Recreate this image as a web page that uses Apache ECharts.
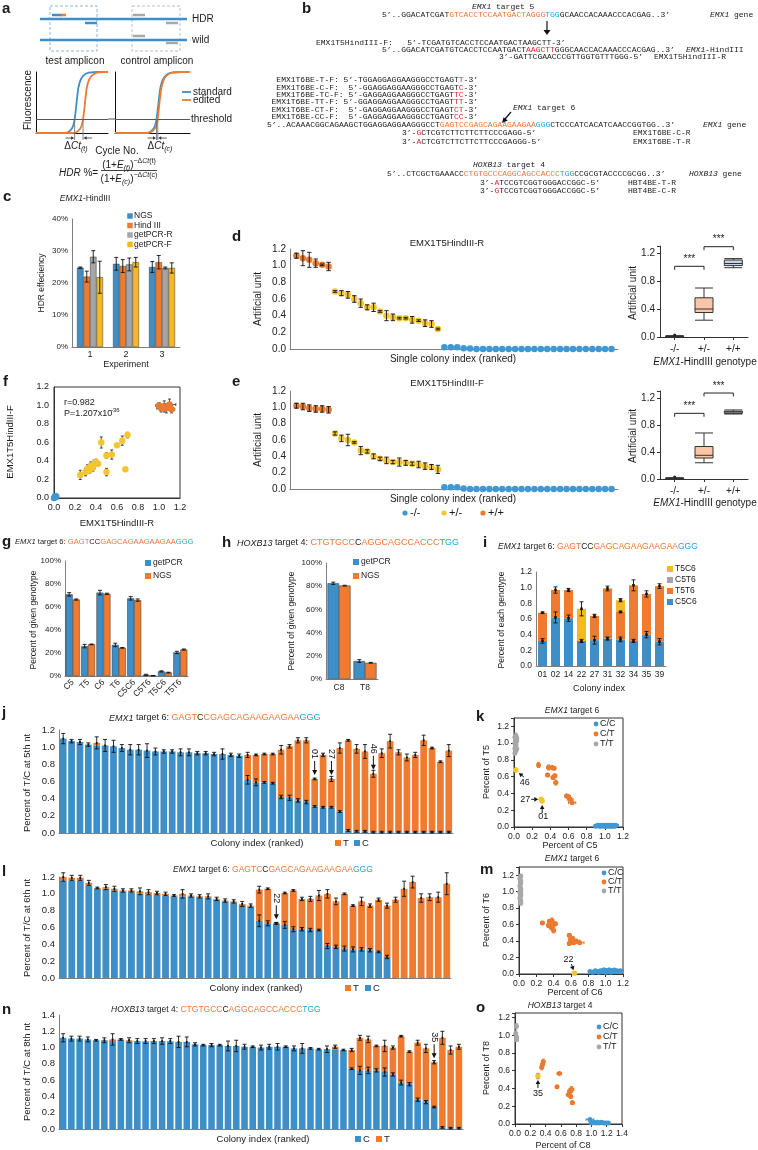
<!DOCTYPE html>
<html><head><meta charset="utf-8"><title>chart</title>
<script src="https://cdn.jsdelivr.net/npm/echarts@6/dist/echarts.min.js"></script>
<style>html,body{margin:0;padding:0;background:#fff;}#c{width:758px;height:1150px;}</style>
</head><body><div id="c"></div>
<script>
// ================= DATA =================
// a: schematic qPCR curves [cycle, fluorescence]
const aTestStd=[[0,0],[12,0],[14,0.03],[15.5,0.12],[16.5,0.35],[17.2,0.6],[18,0.8],[19.5,0.93],[22,0.99],[26,1],[30,1]];
const aTestEdit=[[0,0],[15.5,0],[17.5,0.03],[19,0.12],[20,0.35],[20.7,0.6],[21.5,0.8],[23,0.93],[25.5,0.99],[28,1],[30,1]];
const aCtrlStd=[[0,0],[12.5,0],[14.5,0.03],[16,0.12],[17,0.35],[17.7,0.6],[18.5,0.8],[20,0.93],[22.5,0.99],[26,1],[30,1]];
const aCtrlEdit=[[0,0],[13,0],[15,0.03],[16.5,0.12],[17.4,0.35],[18.1,0.6],[18.9,0.8],[20.4,0.93],[23,0.99],[26.5,1],[30,1]];
const aThreshold=0.23;
const aCtTest=[16.1,19.6], aCtCtrl=[16.6,17.1];
// c
const cCats=['1','2','3'];
const cNGS=[24.8,26.0,25.0], cNGSErr=[0.2,2.0,1.7];
const cHind=[22.0,25.3,26.5], cHindErr=[1.7,2.0,2.1];
const cPCRR=[28.2,25.8,24.7], cPCRRErr=[1.9,2.0,0.3];
const cPCRF=[21.8,26.5,24.7], cPCRFErr=[5.0,1.5,1.6];
// d (EMX1T5HindIII-R), ranked colonies
const dHom=[1.12,1.09,1.07,1.03,1.01,0.99], dHomErr=[0.03,0.09,0.09,0.05,0.01,0.05];
const dHet=[0.69,0.67,0.65,0.60,0.55,0.50,0.50,0.45,0.40,0.38,0.37,0.37,0.35,0.34,0.31,0.30,0.24];
const dHetErr=[0.01,0.03,0.04,0.04,0.05,0.03,0.05,0.01,0.06,0.04,0.01,0.01,0.04,0.01,0.04,0.04,0.01];
const dWt=[0.02,0.02,0.02,0.01,0.005,0,0,0,0,0,0,0,0,0,0,0,0,0,0,0,0,0,0,0,0,0,0];
const boxCats=['-/-','+/-','+/+'];
const dBox=[[0,0,0.005,0.01,0.02],[0.24,0.35,0.40,0.56,0.70],[0.99,1.02,1.05,1.10,1.12]];
// e (EMX1T5HindIII-F)
const eHom=[1.02,1.01,0.99,0.98,0.98,0.97], eHomErr=[0.03,0.04,0.04,0.04,0.04,0.04];
const eHet=[0.68,0.62,0.60,0.57,0.47,0.46,0.40,0.37,0.35,0.33,0.33,0.32,0.31,0.30,0.28,0.27,0.24];
const eHetErr=[0.02,0.04,0.07,0.01,0.05,0.02,0.03,0.02,0.04,0.02,0.05,0.03,0.02,0.04,0.04,0.03,0.05];
const eWt=[0.02,0.02,0.02,0.005,0,0,0,0,0,0,0,0,0,0,0,0,0,0,0,0,0,0,0,0,0,0,0];
const eBox=[[0,0,0.005,0.01,0.02],[0.24,0.31,0.35,0.48,0.68],[0.96,0.97,0.99,1.00,1.02]];
// f  [R, F, errR, errF]
const fHom=[[1.00,1.00,0.03,0.03],[1.02,0.97,0.04,0.04],[1.05,0.99,0.03,0.06],[1.07,0.97,0.04,0.05],[1.10,1.01,0.06,0.06],[1.12,0.96,0.03,0.04]];
const fHet=[[0.25,0.25,0,0.05],[0.30,0.28,0,0.04],[0.32,0.32,0,0.04],[0.34,0.30,0,0.03],[0.35,0.35,0,0.04],[0.37,0.33,0,0.04],[0.38,0.36,0,0.05],[0.40,0.39,0,0.03],[0.42,0.37,0,0.02],[0.45,0.60,0,0.06],[0.50,0.46,0,0.03],[0.50,0.28,0,0.04],[0.55,0.47,0,0.05],[0.60,0.57,0,0.01],[0.65,0.62,0,0.05],[0.68,0.31,0,0.01],[0.70,0.68,0,0.03]];
const fWt=[[0.00,0.00,0,0],[0.01,0.01,0,0],[0.02,0.02,0,0],[0.01,0.02,0,0],[0.02,0.01,0,0]];
// g
const gCats=['C5','T5','C6','T6','C5C6','C5T6','T5C6','T5T6'];
const gPCR=[71,26,72.5,27,67.5,1,4,20.5], gPCRErr=[1.5,1.5,2,1.5,1.5,0.5,0.5,1];
const gNGS=[66.5,27.5,71.5,24.5,66,0.3,3,23], gNGSErr=[0.5,0.3,0.5,0.3,1,0.1,0.3,0.5];
// h
const hCats=['C8','T8'];
const hPCR=[82.5,15.5], hPCRErr=[1,1.2], hNGS=[80.5,14], hNGSErr=[0.3,0.3];
// i
const iCats=['01','02','14','22','27','31','32','34','35','39'];
const iC5C6=[0.32,0.62,0.61,0.32,0.33,0.35,0.34,0.32,0.40,0.31], iC5C6Err=[0.03,0.07,0.04,0.02,0.05,0.02,0.03,0.02,0.04,0.04];
const iT5T6=[0.36,0.35,0.36,0,0.31,0.64,0.35,0.71,0.52,0.71], iT5T6Err=[0.01,0.04,0.02,0,0.02,0.03,0.01,0.07,0.04,0.03];
const iC5T6=[0,0,0,0,0,0,0,0,0,0];
const iT5C6=[0,0,0,0.41,0,0,0.15,0,0,0], iT5C6Err=[0,0,0,0.09,0,0,0.02,0,0,0];
// j (T/C at 5th nt), ranked
const jTotal=[1.10,1.07,1.06,1.03,1.05,1.02,1.01,0.99,0.97,0.97,0.96,0.95,0.95,0.95,0.94,0.94,0.93,0.93,0.92,0.92,0.91,0.90,0.91,0.91,0.92,0.92,0.97,1.01,1.08,1.08,0.63,0.91,0.63,0.99,1.08,0.98,0.95,0.69,0.93,1.07,0.94,0.88,0.91,1.08,0.99,0.83,0.96];
const jC=[1.10,1.07,1.06,1.03,1.02,1.02,1.01,0.99,0.97,0.97,0.96,0.95,0.95,0.95,0.94,0.94,0.93,0.93,0.92,0.92,0.91,0.90,0.62,0.59,0.59,0.58,0.42,0.41,0.38,0.36,0.31,0.30,0.30,0.25,0.03,0.02,0.02,0.01,0.01,0.01,0.01,0.01,0.01,0.01,0.01,0.01,0.01];
const jErrT=[0.06,0.02,0.03,0.02,0.07,0.07,0.07,0.04,0.06,0.06,0.08,0.04,0.02,0.02,0.04,0.04,0.02,0.02,0.02,0.06,0.02,0.02,0.03,0.01,0.01,0.01,0.05,0.02,0.03,0.03,0.01,0.02,0.03,0.06,0.01,0.05,0.08,0.04,0.05,0.08,0.03,0.04,0.03,0.06,0.01,0.01,0.07];
const jErrC=[0,0,0,0,0,0,0,0,0,0,0,0,0,0,0,0,0,0,0,0,0,0,0.05,0.04,0.01,0.01,0.02,0.03,0.02,0.02,0.01,0.01,0.01,0.01,0.01,0.01,0.01,0.01,0.01,0.01,0.01,0.01,0.01,0.01,0.01,0.01,0.01];
const jMarks=[[30,'01'],[32,'27'],[37,'46']];
// k
const kCC=[[0.90,0.01,0.02,0.01],[0.92,0.02,0.03,0.01],[0.94,0.01,0.02,0.01],[0.95,0.02,0.03,0.01],[0.96,0.01,0.02,0.01],[0.98,0.02,0.03,0.01],[0.99,0.01,0.02,0.01],[1.00,0.02,0.03,0.01],[1.01,0.01,0.02,0.01],[1.02,0.02,0.03,0.01],[1.03,0.01,0.02,0.01],[1.04,0.02,0.03,0.01],[1.05,0.01,0.02,0.01],[1.06,0.02,0.03,0.01],[1.07,0.01,0.02,0.01],[1.08,0.02,0.03,0.01],[1.09,0.01,0.02,0.01],[1.10,0.02,0.03,0.01],[1.11,0.01,0.02,0.01],[1.12,0.02,0.03,0.01]];
const kCT=[[0.27,0.74,0.01,0.03],[0.37,0.62,0.02,0.02],[0.38,0.71,0.02,0.03],[0.42,0.71,0.02,0.02],[0.44,0.70,0.02,0.02],[0.45,0.61,0.02,0.02],[0.46,0.53,0.02,0.03],[0.43,0.59,0.02,0.02],[0.58,0.37,0.02,0.02],[0.60,0.36,0.02,0.02],[0.62,0.33,0.03,0.02],[0.64,0.29,0.04,0.02]];
const kTT=[[0.02,1.09,0.01,0.03],[0.01,1.07,0.01,0.02],[0.02,1.05,0.01,0.03],[0.03,1.03,0.01,0.02],[0.01,1.00,0.01,0.02],[0.02,0.98,0.01,0.03],[0.02,0.96,0.01,0.02],[0.01,0.94,0.01,0.02],[0.03,0.93,0.01,0.02],[0.02,0.91,0.01,0.02],[0.01,0.88,0.01,0.02],[0.02,0.99,0.01,0.02],[0.03,1.06,0.01,0.02]];
const kSpecial=[[0.02,0.68,0,0.02],[0.30,0.33,0.01,0.02],[0.31,0.31,0.01,0.02]];
const kSpecialLabels=['46','27','01'];
// l (T/C at 6th nt), ranked
const lTotal=[1.20,1.19,1.19,1.13,1.07,1.08,1.06,1.04,1.04,1.03,1.02,1.01,1.00,0.98,1.00,0.98,0.97,0.97,0.94,0.92,0.91,0.88,0.86,1.05,1.06,0.65,1.01,1.04,0.94,0.94,0.98,1.00,0.91,1.00,0.86,0.91,0.86,0.93,0.86,0.93,1.06,1.14,0.95,0.96,0.96,1.12];
const lC=[1.16,1.16,1.16,1.10,1.06,1.06,1.04,1.03,1.02,1.00,0.99,0.99,0.98,0.97,0.97,0.97,0.96,0.95,0.93,0.91,0.90,0.87,0.85,0.68,0.65,0.65,0.63,0.58,0.58,0.57,0.57,0.38,0.37,0.35,0.34,0.34,0.33,0.31,0.25,0.01,0.01,0.01,0.01,0.01,0.01,0.01];
const lErrT=[0.05,0.03,0.03,0.03,0.01,0.03,0.03,0.02,0.02,0.04,0.03,0.02,0.02,0.01,0.05,0.02,0.02,0.03,0.02,0.02,0.02,0.03,0.02,0.04,0.01,0.01,0.01,0.01,0.02,0.03,0.06,0.05,0.04,0.01,0.01,0.05,0.02,0.02,0.03,0.03,0.09,0.07,0.05,0.04,0.06,0.13];
const lErrC=[0,0,0,0,0,0,0,0,0,0,0,0,0,0,0,0,0,0,0,0,0,0,0,0.07,0.03,0.01,0.04,0.03,0.02,0.02,0.01,0.03,0.02,0.03,0.03,0.02,0.02,0.01,0.02,0,0,0,0,0,0,0];
const lMarks=[[25,'22']];
// m
const mCC=[[0.82,0.03,0.02,0.01],[0.85,0.02,0.03,0.01],[0.88,0.04,0.02,0.01],[0.90,0.03,0.03,0.02],[0.92,0.02,0.02,0.01],[0.94,0.04,0.03,0.01],[0.96,0.03,0.02,0.01],[0.98,0.05,0.03,0.02],[1.00,0.02,0.02,0.01],[1.01,0.04,0.03,0.01],[1.03,0.03,0.02,0.01],[1.04,0.05,0.03,0.02],[1.06,0.02,0.02,0.01],[1.07,0.04,0.03,0.01],[1.09,0.03,0.02,0.01],[1.10,0.05,0.03,0.01],[1.12,0.03,0.02,0.01],[1.13,0.04,0.03,0.01],[1.15,0.03,0.02,0.01],[1.17,0.04,0.03,0.01]];
const mCT=[[0.27,0.62,0.02,0.02],[0.35,0.64,0.02,0.02],[0.38,0.65,0.02,0.03],[0.40,0.60,0.03,0.03],[0.37,0.57,0.02,0.03],[0.40,0.53,0.02,0.03],[0.42,0.61,0.02,0.02],[0.34,0.59,0.02,0.02],[0.58,0.47,0.02,0.02],[0.60,0.42,0.03,0.02],[0.63,0.38,0.03,0.02],[0.66,0.40,0.04,0.02],[0.58,0.37,0.02,0.02],[0.62,0.43,0.02,0.02],[0.70,0.38,0.05,0.02]];
const mTT=[[0.02,1.19,0.01,0.02],[0.01,1.16,0.01,0.02],[0.02,1.13,0.01,0.02],[0.02,1.10,0.01,0.02],[0.01,1.07,0.01,0.02],[0.02,1.04,0.01,0.02],[0.02,1.01,0.01,0.02],[0.01,0.99,0.01,0.02],[0.02,0.97,0.01,0.02],[0.02,0.95,0.01,0.02],[0.01,0.92,0.01,0.02],[0.02,0.89,0.01,0.02],[0.02,0.86,0.01,0.02]];
const mSpecial=[[0.64,0.01,0.01,0.01]];
const mSpecialLabels=['22'];
// n (T/C at 8th nt), ranked
const nTotal=[1.12,1.11,1.11,1.10,1.09,1.09,1.10,1.10,1.09,1.08,1.08,1.08,1.08,1.08,1.07,1.07,1.04,1.03,1.03,1.03,1.02,1.02,1.01,1.01,1.00,1.01,1.01,1.01,0.99,0.99,0.99,0.98,0.98,1.01,0.97,0.97,1.12,1.10,1.02,1.02,1.00,1.14,0.95,1.06,0.99,0.82,1.12,0.97,1.01];
const nC=[1.12,1.11,1.11,1.10,1.09,1.09,1.08,1.10,1.08,1.08,1.07,1.08,1.08,1.07,1.07,1.07,1.04,1.03,1.03,1.03,1.02,1.02,1.01,1.01,1.00,1.01,1.01,1.01,0.99,0.99,0.99,0.98,0.98,0.97,0.97,0.74,0.72,0.72,0.72,0.70,0.67,0.57,0.55,0.36,0.33,0.27,0.02,0.01,0.01];
const nErrT=[0.05,0.03,0.03,0.03,0.01,0.03,0.07,0.01,0.03,0.03,0.03,0.03,0.04,0.03,0.07,0.06,0.02,0.01,0.02,0.01,0.06,0.07,0.03,0.01,0.03,0.03,0.04,0.01,0.03,0.06,0.01,0.01,0.04,0.02,0.01,0.02,0.03,0.04,0.01,0.07,0.02,0.01,0.01,0.03,0.05,0.02,0.08,0.05,0.03];
const nErrC=[0,0,0,0,0,0,0,0,0,0,0,0,0,0,0,0,0,0,0,0,0,0,0,0,0,0,0,0,0,0,0,0,0,0,0,0.01,0.05,0.04,0.02,0.05,0.02,0.03,0.02,0.02,0.02,0.01,0.01,0.01,0.01];
const nMarks=[[45,'35']];
// o
const oCC=[[0.98,0.05,0.05,0.01],[1.00,0.01,0.03,0.01],[1.03,0.02,0.03,0.01],[1.06,0.01,0.03,0.01],[1.08,0.02,0.03,0.01],[1.10,0.01,0.03,0.01],[1.13,0.02,0.03,0.01],[1.16,0.01,0.03,0.01],[1.19,0.01,0.03,0.01],[1.22,0.01,0.02,0.01]];
const oCT=[[0.37,0.70,0.02,0.03],[0.36,0.67,0.02,0.03],[0.35,0.64,0.02,0.03],[0.58,0.57,0.03,0.01],[0.55,0.42,0.01,0.01],[0.74,0.39,0.03,0.03],[0.72,0.37,0.03,0.03],[0.70,0.33,0.03,0.02],[0.73,0.31,0.02,0.02],[0.75,0.24,0.02,0.02]];
const oTT=[[0.02,1.10,0.01,0.03],[0.01,1.02,0.01,0.03],[0.02,0.98,0.01,0.03],[0.02,0.95,0.01,0.02]];
const oSpecial=[[0.30,0.54,0.01,0.03]];
const oSpecialLabels=['35'];

// ================= STYLE =================
const FF='Liberation Sans', MONO='Liberation Mono';
const BLUE='#3e8ec8', ORANGE='#ee7b30', GRAY='#a5a5a5', YELLOW='#f6b923';
const DBLUE='#3f98d4', DYEL='#f5c530', DORA='#ec7a2e';
const SEQO='#f07836', SEQC='#22a6d5', SEQR='#e0262e';
const AXC='#7f7f7f';

function merge(a,b){const r=Object.assign({},a);for(const k in b){if(b[k]&&typeof b[k]==='object'&&!Array.isArray(b[k])&&a[k]&&typeof a[k]==='object'&&typeof b[k]!=='function')r[k]=merge(a[k],b[k]);else r[k]=b[k];}return r;}
const grids=[],xA=[],yA=[],S=[],G=[];
function grid(l,t,w,h,x,y,extra){grids.push(Object.assign({left:l,top:t,width:w,height:h},extra||{}));const gi=grids.length-1;xA.push(merge({gridIndex:gi},x));yA.push(merge({gridIndex:gi},y));return gi;}
function fmt(step){return v=>(Math.abs(v/step-Math.round(v/step))<1e-6?v.toFixed(1):'');}
function vAx(min,max,iv,o){return merge({type:'value',min:min,max:max,interval:iv,axisLine:{show:true,lineStyle:{color:AXC,width:1}},axisTick:{show:false},splitLine:{show:false},axisLabel:{fontFamily:FF,fontSize:9,color:'#222',margin:4,formatter:fmt(iv)}},o||{});}
function cAx(data,o){return merge({type:'category',data:data,axisLine:{show:true,lineStyle:{color:AXC,width:1}},axisTick:{show:false},splitLine:{show:false},axisLabel:{fontFamily:FF,fontSize:9,color:'#222',margin:4,interval:0}},o||{});}
const NOLAB={axisLabel:{show:false}};

// text helpers
const RICH={k:{},i:{fontStyle:'italic'},o:{color:SEQO},c:{color:SEQC},r:{color:SEQR},sb:{fontStyle:'italic',sub:1},sp:{sup:1},spi:{sup:1,fontStyle:'italic'}};
function rt(x,y,parts,o){o=o||{};const size=o.size||9,fam=o.family||FF;const rich={};
 for(const k in RICH){const b=RICH[k];const fs=(b.sub||b.sup)?Math.round(size*0.65):size;rich[k]={fontFamily:fam,fontSize:fs,fontStyle:b.fontStyle||'normal',fontWeight:o.weight||'normal',fill:b.color||o.color||'#1a1a1a',color:b.color||o.color||'#1a1a1a',lineHeight:size*1.4,verticalAlign:b.sub?'bottom':(b.sup?'top':'middle')};}
 if(typeof parts==='string')parts=[['k',parts]];
 const text=parts.map(p=>'{'+p[0]+'|'+p[1]+'}').join('');
 const al=o.align||'left';
 G.push({type:'text',x:x,y:y,rotation:o.rot||0,z:100,silent:true,style:{text:text,rich:rich,font:(o.weight||'normal')+' '+size+'px '+fam,align:al,textAlign:al,verticalAlign:'middle',textVerticalAlign:'middle'}});}
function vt(x,y,s,size){rt(x,y,s,{size:size||9.5,align:'center',rot:Math.PI/2});}
function line(x1,y1,x2,y2,c,w,dash){G.push({type:'line',silent:true,z:90,shape:{x1,y1,x2,y2},style:{stroke:c,lineWidth:w||1,lineDash:dash||null}});}
function rect(x,y,w,h,fill,stroke,dash){G.push({type:'rect',silent:true,z:90,shape:{x,y,width:w,height:h},style:{fill:fill||'none',stroke:stroke||null,lineWidth:1,lineDash:dash||null}});}
function circ(x,y,r,fill){G.push({type:'circle',silent:true,z:90,shape:{cx:x,cy:y,r:r},style:{fill:fill}});}
function tri(pts,fill){G.push({type:'polygon',silent:true,z:90,shape:{points:pts},style:{fill:fill||'#111'}});}
function legend(items,o){items.forEach((it,k)=>{const x=o.x+(o.dx||0)*k,y=o.y+(o.dy||0)*k;
 if(it[2]==='c')circ(x,y,o.r||2.5,it[1]);else rect(x-(o.s||6)/2,y-(o.s||6)/2,o.s||6,o.s||6,it[1]);
 rt(x+(o.gap||5),y,it[0],{size:o.size||9});});}

// custom series helpers
function errBars(gi,data,o){o=o||{};const off=o.off||0,cap=o.cap==null?2:o.cap,col=o.color||'#111',dot=o.dot||0;
 S.push({type:'custom',xAxisIndex:gi,yAxisIndex:gi,z:10,silent:true,clip:false,data:data,renderItem:function(p,api){
  const x=api.value(0),y=api.value(1),e=api.value(2);const a=api.coord([x,y-e]),b=api.coord([x,y+e]);const cx=a[0]+off;
  const ch=[{type:'line',shape:{x1:cx,y1:a[1],x2:cx,y2:b[1]},style:{stroke:col,lineWidth:0.9}},
   {type:'line',shape:{x1:cx-cap,y1:a[1],x2:cx+cap,y2:a[1]},style:{stroke:col,lineWidth:0.9}},
   {type:'line',shape:{x1:cx-cap,y1:b[1],x2:cx+cap,y2:b[1]},style:{stroke:col,lineWidth:0.9}}];
  if(dot){const c=api.coord([x,y]);ch.push({type:'rect',shape:{x:cx-dot,y:c[1]-dot,width:2*dot,height:2*dot},style:{fill:col}});}
  return {type:'group',children:ch};}});}
function xyErr(gi,data,col){S.push({type:'custom',xAxisIndex:gi,yAxisIndex:gi,z:4,silent:true,clip:false,data:data,renderItem:function(p,api){
  const x=api.value(0),y=api.value(1),ex=api.value(2),ey=api.value(3);const ch=[];const c=1.5;
  if(ey>0){const a=api.coord([x,y-ey]),b=api.coord([x,y+ey]);ch.push({type:'line',shape:{x1:a[0],y1:a[1],x2:b[0],y2:b[1]},style:{stroke:col,lineWidth:0.8}},{type:'line',shape:{x1:a[0]-c,y1:a[1],x2:a[0]+c,y2:a[1]},style:{stroke:col,lineWidth:0.8}},{type:'line',shape:{x1:b[0]-c,y1:b[1],x2:b[0]+c,y2:b[1]},style:{stroke:col,lineWidth:0.8}});}
  if(ex>0){const a=api.coord([x-ex,y]),b=api.coord([x+ex,y]);ch.push({type:'line',shape:{x1:a[0],y1:a[1],x2:b[0],y2:b[1]},style:{stroke:col,lineWidth:0.8}},{type:'line',shape:{x1:a[0],y1:a[1]-c,x2:a[0],y2:a[1]+c},style:{stroke:col,lineWidth:0.8}},{type:'line',shape:{x1:b[0],y1:b[1]-c,x2:b[0],y2:b[1]+c},style:{stroke:col,lineWidth:0.8}});}
  return {type:'group',children:ch};}});}
function scat(gi,data,col,size,z){S.push({type:'scatter',xAxisIndex:gi,yAxisIndex:gi,z:z||5,data:data.map(d=>[d[0],d[1]]),symbolSize:size||5,itemStyle:{color:col,opacity:1},silent:true});}
function vArrows(gi,marks,tot){S.push({type:'custom',xAxisIndex:gi,yAxisIndex:gi,z:20,silent:true,clip:false,data:marks.map(m=>[m[0],tot[m[0]]]),renderItem:function(p,api){
  const x=api.value(0),v=api.value(1);const b=api.coord([x,v]);const tipY=b[1]-4-0.0,tailY=tipY-14;const L=marks[p.dataIndex][1];
  return {type:'group',children:[{type:'line',shape:{x1:b[0],y1:tailY,x2:b[0],y2:tipY-4},style:{stroke:'#111',lineWidth:1}},
   {type:'polygon',shape:{points:[[b[0]-2.5,tipY-5],[b[0]+2.5,tipY-5],[b[0],tipY]]},style:{fill:'#111'}},
   {type:'text',x:b[0],y:tailY-2,rotation:-Math.PI/2,style:{text:L,fill:'#111',font:'9px '+FF,align:'right',textAlign:'right',verticalAlign:'middle',textVerticalAlign:'middle'}}]};}});}
function ptArrows(gi,pts,labels,specs){S.push({type:'custom',xAxisIndex:gi,yAxisIndex:gi,z:20,silent:true,clip:false,data:pts.map(d=>[d[0],d[1]]),renderItem:function(p,api){
  const c=api.coord([api.value(0),api.value(1)]);const s=specs[p.dataIndex];
  const x1=c[0]+s[0],y1=c[1]+s[1],x2=c[0]+s[2],y2=c[1]+s[3];const ang=Math.atan2(y2-y1,x2-x1);const h=4,w=2.3;
  const bx=x2-h*Math.cos(ang),by=y2-h*Math.sin(ang);
  return {type:'group',children:[{type:'line',shape:{x1:x1,y1:y1,x2:bx,y2:by},style:{stroke:'#111',lineWidth:1}},
   {type:'polygon',shape:{points:[[x2,y2],[bx-w*Math.sin(ang),by+w*Math.cos(ang)],[bx+w*Math.sin(ang),by-w*Math.cos(ang)]]},style:{fill:'#111'}},
   {type:'text',x:c[0]+s[4],y:c[1]+s[5],style:{text:labels[p.dataIndex],fill:'#111',font:'9px '+FF,align:'center',textAlign:'center',verticalAlign:'middle',textVerticalAlign:'middle'}}]};}});}
function brackets(gi,data){S.push({type:'custom',xAxisIndex:gi,yAxisIndex:gi,z:20,silent:true,clip:false,data:data,renderItem:function(p,api){
  const x1=api.value(0),x2=api.value(1),y=api.value(2),yt=api.value(3);const a=api.coord([x1,yt]),b=api.coord([x1,y]),c=api.coord([x2,y]),d=api.coord([x2,yt]);
  return {type:'group',children:[{type:'polyline',shape:{points:[a,b,c,d]},style:{stroke:'#222',lineWidth:1,fill:null}},
   {type:'text',x:(b[0]+c[0])/2,y:b[1]-2,style:{text:'***',fill:'#222',font:'10px '+FF,align:'center',textAlign:'center',verticalAlign:'bottom',textVerticalAlign:'bottom'}}]};}});}

// ================= PANEL LETTERS =================
[['a',2,9],['b',302,9],['c',3,197],['d',232,237],['e',232,382],['f',3,382],['g',2,542],['h',222,543],['i',483,543],['j',2,713],['k',476,717],['l',2,872],['m',480,870],['n',2,1010],['o',476,1008]].forEach(p=>rt(p[1],p[2],p[0],{size:15,weight:'bold'}));

// ================= PANEL a =================
rect(50,6,47,45,null,'#8ab8de',[3,2]);rect(132,6,48,45,null,'#bdbdbd',[3,2]);
line(40,19,187,19,BLUE,2.5);line(40,40,187,40,BLUE,2.5);
line(52,15,62,15,BLUE,2.5);line(61,15,66,15,ORANGE,2.5);line(85,23,97,23,BLUE,2.5);
line(133,15,145,15,'#a8a8a8',2.5);line(166,23,178,23,'#a8a8a8',2.5);line(133,36,145,36,'#a8a8a8',2.5);line(166,43,178,43,'#a8a8a8',2.5);
rt(192,19,'HDR',{size:10});rt(192,40,'wild',{size:10});
rt(75,61,'test amplicon',{size:10,align:'center'});rt(157,61,'control amplicon',{size:10,align:'center'});
const aL=grid(36,72,72,61,vAx(0,30,null,merge(NOLAB,{axisLine:{lineStyle:{color:'#111'}}})),vAx(0,1,null,merge(NOLAB,{axisLine:{lineStyle:{color:'#111'}}})));
const aR=grid(115,72,75,61,vAx(0,30,null,merge(NOLAB,{axisLine:{lineStyle:{color:'#111'}}})),vAx(0,1,null,merge(NOLAB,{axisLine:{lineStyle:{color:'#111'}}})));
function curve(gi,d,col,ml){const s={type:'line',xAxisIndex:gi,yAxisIndex:gi,data:d,smooth:0.5,showSymbol:false,lineStyle:{color:col,width:1.8},silent:true,z:3};
 if(ml)s.markLine={silent:true,symbol:'none',label:{show:false},lineStyle:{color:'#555',width:1,type:'solid'},data:[{yAxis:aThreshold}]};S.push(s);}
curve(aL,aTestStd,BLUE,true);curve(aL,aTestEdit,ORANGE);curve(aR,aCtrlStd,BLUE,true);curve(aR,aCtrlEdit,ORANGE);
function ctMarks(gi,xs){S.push({type:'custom',xAxisIndex:gi,yAxisIndex:gi,z:6,silent:true,clip:false,data:[[xs[0],xs[1]]],renderItem:function(p,api){
 const a=api.coord([api.value(0),aThreshold]),b=api.coord([api.value(1),aThreshold]),z=api.coord([0,0]);const ay=z[1]+5;
 return {type:'group',children:[{type:'line',shape:{x1:a[0],y1:a[1],x2:a[0],y2:ay+2},style:{stroke:'#777',lineWidth:0.9}},{type:'line',shape:{x1:b[0],y1:b[1],x2:b[0],y2:ay+2},style:{stroke:'#777',lineWidth:0.9}},
  {type:'line',shape:{x1:a[0]-9,y1:ay,x2:a[0]-2,y2:ay},style:{stroke:'#333',lineWidth:0.8}},{type:'polygon',shape:{points:[[a[0]-0.5,ay],[a[0]-3.5,ay-1.8],[a[0]-3.5,ay+1.8]]},style:{fill:'#333'}},
  {type:'line',shape:{x1:b[0]+9,y1:ay,x2:b[0]+2,y2:ay},style:{stroke:'#333',lineWidth:0.8}},{type:'polygon',shape:{points:[[b[0]+0.5,ay],[b[0]+3.5,ay-1.8],[b[0]+3.5,ay+1.8]]},style:{fill:'#333'}}]};}});}
ctMarks(aL,aCtTest);ctMarks(aR,aCtCtrl);
line(108,119,115,119,'#555',1);
rt(191,119,'threshold',{size:10});
line(182,92,191,92,BLUE,1.8);rt(193,92,'standard',{size:10});line(182,100,191,100,ORANGE,1.8);rt(193,100,'edited',{size:10});
vt(28,100,'Fluorescence',10);
rt(76,146,[['k','Δ'],['i','Ct'],['sb','(t)']],{size:10,align:'center'});
rt(160,146,[['k','Δ'],['i','Ct'],['sb','(c)']],{size:10,align:'center'});
rt(117,151,'Cycle No.',{size:10,align:'center'});
rt(59,173,[['i','HDR'],['k',' %=']],{size:10});
rt(129,165,[['k','(1+'],['i','E'],['sb','(t)'],['k',')'],['sp','−Δ'],['spi','Ct'],['sp','(t)']],{size:10,align:'center'});
line(101,170.5,157,170.5,'#111',0.8);
rt(129,179,[['k','(1+'],['i','E'],['sb','(c)'],['k',')'],['sp','−Δ'],['spi','Ct'],['sp','(c)']],{size:10,align:'center'});

// ================= PANEL b =================
const M={family:MONO,size:8};
rt(472,7,[['i','EMX1'],['k',' target 5']],M);
rt(382,15,[['k','5’..GGACATCGAT'],['o','GTCACCTCCAATGACTAGGG'],['c','TGG'],['k','GCAACCACAAACCCACGAG..3’']],M);
rt(710,15,[['i','EMX1'],['k',' gene']],M);
line(547,21,547,31,'#111',1.2);tri([[543.5,30],[550.5,30],[547,35]]);
rt(316,43,'EMX1T5HindIII-F:   5’-TCGATGTCACCTCCAATGACTAAGCTT-3’',M);
rt(382,50,[['k','5’..GGACATCGATGTCACCTCCAATGACT'],['r','AAGCTT'],['k','GGGCAACCACAAACCCACGAG..3’']],M);
rt(686,50,[['i','EMX1'],['k','-HindIII']],M);
rt(499,57,'3’-GATTCGAACCCGTTGGTGTTTGGG-5’',M);rt(654,57,'EMX1T5HindIII-R',M);
const t6F=[['EMX1T6BE-T-F: 5’-TGGAGGAGGAAGGGCCTGAGT','T'],['EMX1T6BE-C-F:  5’-GGAGGAGGAAGGGCCTGAGT','C'],['EMX1T6BE-TC-F: 5’-GAGGAGGAAGGGCCTGAGT','TC'],['EMX1T6BE-TT-F: 5’-GGAGGAGGAAGGGCCTGAGT','TT'],['EMX1T6BE-CT-F:  5’-GAGGAGGAAGGGCCTGAGT','CT'],['EMX1T6BE-CC-F:  5’-GAGGAGGAAGGGCCTGAGT','CC']];
t6F.forEach((r,k)=>rt(478,80+7.4*k,[['k',r[0]],['r',r[1]],['k','-3’']],Object.assign({align:'right'},M)));
rt(513,108,[['i','EMX1'],['k',' target 6']],M);
line(511,112,505,119,'#111',1.2);tri([[502,123],[503.5,117.2],[507.8,120.6]]);
rt(267,125,[['k','5’..ACAAACGGCAGAAGCTGGAGGAGGAAGGGCCT'],['o','GAGTCCGAGCAGAAGAAGAA'],['c','GGG'],['k','CTCCCATCACATCAACCGGTGG..3’']],M);
rt(703,125,[['i','EMX1'],['k',' gene']],M);
rt(402,133,[['k','3’-'],['r','G'],['k','CTCGTCTTCTTCTTCCCGAGG-5’']],M);rt(633,133,'EMX1T6BE-C-R',M);
rt(402,142,[['k','3’-'],['r','A'],['k','CTCGTCTTCTTCTTCCCGAGGG-5’']],M);rt(633,142,'EMX1T6BE-T-R',M);
rt(473,165,[['i','HOXB13'],['k',' target 4']],M);
rt(387,174,[['k','5’..CTCGCTGAAACC'],['o','CTGTGCCCAGGCAGCCACCC'],['c','TGG'],['k','CCGCGTACCCCGCGG..3’']],M);
rt(689,174,[['i','HOXB13'],['k',' gene']],M);
rt(480,183,[['k','3’-'],['r','A'],['k','TCCGTCGGTGGGACCGGC-5’']],M);rt(628,183,'HBT4BE-T-R',M);
rt(480,191,[['k','3’-'],['r','G'],['k','TCCGTCGGTGGGACCGGC-5’']],M);rt(628,191,'HBT4BE-C-R',M);

// ================= PANEL c =================
const gc=grid(72,219,108,128,cAx(cCats,{axisLabel:{fontSize:9,margin:3}}),vAx(0,40,10,{axisLabel:{fontSize:8,formatter:v=>v+'%'}}));
[[cNGS,cNGSErr,BLUE],[cHind,cHindErr,ORANGE],[cPCRR,cPCRRErr,GRAY],[cPCRF,cPCRFErr,YELLOW]].forEach((s,k)=>{
 S.push({type:'bar',xAxisIndex:gc,yAxisIndex:gc,data:s[0],barWidth:6.5,barGap:'0%',itemStyle:{color:s[2],borderColor:'#3a3a3a',borderWidth:0.5},silent:true});
 errBars(gc,s[0].map((v,i)=>[i,v,s[1][i]]),{off:(k-1.5)*6.5,cap:2});});
rt(85,199,[['i','EMX1'],['k','-HindIII']],{size:8.5,align:'center'});
legend([['NGS',BLUE],['Hind III',ORANGE],['getPCR-R',GRAY],['getPCR-F',YELLOW]],{x:130,y:216,dy:9.5,size:8.5,s:5.5,gap:4});
vt(42,283,'HDR effeciency',8.5);rt(126,365,'Experiment',{size:9,align:'center'});

// ================= PANEL d / e =================
function rankPanel(top,h,hom,homE,het,hetE,wt,title,ty,xlab,xy){
 const gi=grid(290,top,328,h,vAx(0,51,null,NOLAB),vAx(0,1.2,0.2,{axisLabel:{fontSize:10}}));
 const H=hom.map((v,i)=>[i+1,v]),T=het.map((v,i)=>[hom.length+i+1,v]),W=wt.map((v,i)=>[hom.length+het.length+i+1,v]);
 errBars(gi,hom.map((v,i)=>[i+1,v,homE[i]]),{cap:2.2});errBars(gi,het.map((v,i)=>[hom.length+i+1,v,hetE[i]]),{cap:2.2});
 scat(gi,H,DORA,6.5,3);scat(gi,T,DYEL,6.5,3);scat(gi,W,DBLUE,6.5,3);
 rt(447,ty,title,{size:9.5,align:'center'});vt(258,top+h/2,'Artificial unit',10);rt(453,xy,xlab,{size:10,align:'center'});}
rankPanel(249,100,dHom,dHomErr,dHet,dHetErr,dWt,'EMX1T5HindIII-R',243,'Single colony index (ranked)',359);
rankPanel(391,98,eHom,eHomErr,eHet,eHetErr,eWt,'EMX1T5HindIII-F',383,'Single colony index (ranked)',499);
legend([['-/-',DBLUE,'c'],['+/-',DYEL,'c'],['+/+',DORA,'c']],{x:405,y:513,dx:39,r:2.6,size:11,gap:5});
function boxPanel(top,h,box){
 const gi=grid(660,top,88,h,cAx(boxCats,{offset:4,axisTick:{show:true,alignWithLabel:true,length:3,lineStyle:{color:'#333'}},axisLine:{lineStyle:{color:'#333'}},axisLabel:{fontSize:10,margin:3}}),vAx(0,1.3,0.4,{axisLine:{lineStyle:{color:'#333'}},axisTick:{show:true,length:3,lineStyle:{color:'#333'}},axisLabel:{fontSize:10,margin:5,formatter:fmt(0.4)}}));
 const cols=['#555555','#f9c6a7','#c5d3e6'];
 S.push({type:'boxplot',xAxisIndex:gi,yAxisIndex:gi,boxWidth:[18,18],silent:true,data:box.map((b,i)=>({value:b,itemStyle:{color:cols[i],borderColor:'#333',borderWidth:1}}))});
 scat(gi,[[0,box[0][4]+0.01]],'#222',3,6);
 return gi;}
const gdb=boxPanel(246,91,dBox);brackets(gdb,[[0,1,1.01,0.96],[1,2,1.29,1.24]]);
vt(633,293,'Artificial unit',10);rt(705,362,[['i','EMX1'],['k','-HindIII genotype']],{size:10,align:'center'});
const geb=boxPanel(391,88,eBox);brackets(geb,[[0,1,0.97,0.92],[1,2,1.27,1.22]]);
vt(633,436,'Artificial unit',10);rt(705,503,[['i','EMX1'],['k','-HindIII genotype']],{size:10,align:'center'});

// ================= PANEL f =================
const gf=grid(54,387,126,111,vAx(0,1.2,0.2,{axisLine:{lineStyle:{color:'#333'}},axisLabel:{fontSize:9,margin:5}}),vAx(0,1.2,0.2,{axisLine:{lineStyle:{color:'#333'}},axisLabel:{fontSize:9,margin:5}}),{show:true,borderColor:'#333',borderWidth:1});
xyErr(gf,fHom,'#222');xyErr(gf,fHet,'#222');
scat(gf,fHom,DORA,6.5);scat(gf,fHet,DYEL,6.5);scat(gf,fWt,DBLUE,6.5);
vt(10,442,'EMX1T5HindIII-F',9.5);rt(117,523,'EMX1T5HindIII-R',{size:9.5,align:'center'});
rt(64,403,'r=0.982',{size:9});rt(64,414,'P=1.207x10',{size:9});rt(111,410,'-36',{size:6});

// ================= PANEL g / h =================
function pctBars(l,t,w,h,cats,a,aE,b,bE,bw,rot){
 const gi=grid(l,t,w,h,cAx(cats,{axisLabel:{fontSize:8.5,rotate:rot||0,margin:rot?5:4,interval:0}}),vAx(0,100,20,{axisLabel:{fontSize:8,formatter:v=>v+'%'}}));
 S.push({type:'bar',xAxisIndex:gi,yAxisIndex:gi,data:a,barWidth:bw,barGap:'0%',itemStyle:{color:BLUE,borderColor:'#333',borderWidth:0.5},silent:true});
 S.push({type:'bar',xAxisIndex:gi,yAxisIndex:gi,data:b,barWidth:bw,barGap:'0%',itemStyle:{color:ORANGE,borderColor:'#333',borderWidth:0.5},silent:true});
 errBars(gi,a.map((v,i)=>[i,v,aE[i]]),{off:-bw/2,cap:2});errBars(gi,b.map((v,i)=>[i,v,bE[i]]),{off:bw/2,cap:2});return gi;}
pctBars(65,561,123,115,gCats,gPCR,gPCRErr,gNGS,gNGSErr,7,45);
rt(15,542,[['i','EMX1'],['k',' target 6: '],['o','GAGT'],['k','CC'],['o','GAGCAGAAGAAGAA'],['c','GGG']],{size:7.6});
legend([['getPCR',BLUE],['NGS',ORANGE]],{x:148,y:563,dy:13,size:8.5,s:6});
vt(34,620,'Percent of given genotype',8.5);
pctBars(326,563,52,116,hCats,hPCR,hPCRErr,hNGS,hNGSErr,11.5,0);
rt(237,543,[['i','HOXB13'],['k',' target 4: '],['o','CTGTGCC'],['k','C'],['o','AGGCAGCCACCC'],['c','TGG']],{size:9});
legend([['getPCR',BLUE],['NGS',ORANGE]],{x:356,y:562,dy:14,size:8.5,s:6});
vt(292,621,'Percent of given genotype',8.5);

// ================= PANEL i =================
const gi_=grid(536,572,130,94,cAx(iCats,{axisLabel:{fontSize:8.5}}),vAx(0,1.2,0.2,{axisLabel:{fontSize:8.5}}));
[[iC5C6,BLUE],[iT5T6,ORANGE],[iC5T6,GRAY],[iT5C6,YELLOW]].forEach(s=>S.push({type:'bar',xAxisIndex:gi_,yAxisIndex:gi_,stack:'i',data:s[0],barWidth:9,itemStyle:{color:s[1]},silent:true}));
errBars(gi_,iC5C6.map((v,i)=>[i,v,iC5C6Err[i]]),{cap:2,dot:1.3});
errBars(gi_,iT5T6.map((v,i)=>[i,iC5C6[i]+v,iT5T6Err[i]]).filter((d,i)=>iT5T6[i]>0),{cap:2,dot:1.3});
errBars(gi_,iT5C6.map((v,i)=>[i,iC5C6[i]+iT5T6[i]+v,iT5C6Err[i]]).filter((d,i)=>iT5C6[i]>0),{cap:2,dot:1.3});
rt(498,547,[['i','EMX1'],['k',' target 6: '],['o','GAGT'],['k','CC'],['o','GAGCAGAAGAAGAA'],['c','GGG']],{size:8.5});
legend([['T5C6',YELLOW],['C5T6',GRAY],['T5T6',ORANGE],['C5C6',BLUE]],{x:670,y:569,dy:11,size:8.5,s:6});
vt(502,620,'Percent of each genotype',8.5);rt(599,689,'Colony index',{size:9,align:'center'});

// ================= PANEL j / l / n =================
function rankBars(l,t,w,h,max,tot,c,eT,eC,marks){
 const cats=tot.map((_,i)=>String(i+1));
 const gi=grid(l,t,w,h,cAx(cats,NOLAB),vAx(0,max,0.2,{axisLabel:{fontSize:9.5}}));
 S.push({type:'bar',xAxisIndex:gi,yAxisIndex:gi,stack:'s'+gi,data:c,barWidth:'80%',itemStyle:{color:BLUE},silent:true});
 S.push({type:'bar',xAxisIndex:gi,yAxisIndex:gi,stack:'s'+gi,data:tot.map((v,i)=>+(v-c[i]).toFixed(3)),barWidth:'80%',itemStyle:{color:ORANGE},silent:true});
 errBars(gi,tot.map((v,i)=>[i,v,eT[i]]),{cap:2,dot:0.9});
 errBars(gi,c.map((v,i)=>[i,v,eC[i]]).filter(d=>d[2]>0),{cap:2,dot:0.9});
 vArrows(gi,marks,tot);return gi;}
rankBars(59,730,394,103,1.2,jTotal,jC,jErrT,jErrC,jMarks);
rt(109,718,[['i','EMX1'],['k',' target 6: '],['o','GAGT'],['k','C'],['o','CGAGCAGAAGAAGAA'],['c','GGG']],{size:9});
vt(27,783,'Percent of T/C at 5th nt',9.5);rt(257,843,'Colony index (ranked)',{size:9.5,align:'center'});
legend([['T',ORANGE],['C',BLUE]],{x:338,y:843,dx:19,size:9.5,s:6,gap:5});
rankBars(59,877,392,101,1.2,lTotal,lC,lErrT,lErrC,lMarks);
rt(173,870,[['i','EMX1'],['k',' target 6: '],['o','GAGTC'],['k','C'],['o','GAGCAGAAGAAGAA'],['c','GGG']],{size:8.5});
vt(27,928,'Percent of T/C at 6th nt',9.5);rt(256,988,'Colony index (ranked)',{size:9.5,align:'center'});
legend([['T',ORANGE],['C',BLUE]],{x:348,y:988,dx:20,size:9.5,s:6,gap:5});
rankBars(59,1015,404,114,1.4,nTotal,nC,nErrT,nErrC,nMarks);
rt(111,1010,[['i','HOXB13'],['k',' target 4: '],['o','CTGTGCC'],['k','C'],['o','AGGCAGCCACCC'],['c','TGG']],{size:8.5});
vt(27,1072,'Percent of T/C at 8th nt',9.5);rt(263,1139,'Colony index (ranked)',{size:9.5,align:'center'});
legend([['C',BLUE],['T',ORANGE]],{x:358,y:1139,dx:21,size:9.5,s:6,gap:5});

// ================= PANEL k / m / o =================
function genoScatter(l,t,w,h,xmax,ymax,cc,ct,tt,sp,spLab,spSpec){
 const ax={axisLine:{lineStyle:{color:'#333'}},axisTick:{show:true,length:3,lineStyle:{color:'#333'}},axisLabel:{fontSize:8.5,margin:5}};
 const gi=grid(l,t,w,h,vAx(0,xmax,0.2,ax),vAx(0,ymax,0.2,ax),{show:true,borderColor:'#333',borderWidth:1});
 xyErr(gi,tt,'#999');xyErr(gi,cc,'#3a7fb8');xyErr(gi,ct,'#c8601e');xyErr(gi,sp,'#333');
 scat(gi,tt,'#a8a8a8',5);scat(gi,cc,DBLUE,5);scat(gi,ct,DORA,5);scat(gi,sp,DYEL,5.5,6);
 ptArrows(gi,sp,spLab,spSpec);return gi;}
genoScatter(514,718,109,109,1.2,1.3,kCC,kCT,kTT,kSpecial,kSpecialLabels,[[8,7,3,3,9,13],[-10,0,-3,0,-16,0],[0,12,0,4,1,16]]);
rt(572,711,[['i','EMX1'],['k',' target 6']],{size:8.5,align:'center'});
legend([['C/C',DBLUE,'c'],['C/T',DORA,'c'],['T/T','#a8a8a8','c']],{x:596,y:724,dy:10,r:2.4,size:9,gap:4});
vt(487,772,'Percent of T5',9);rt(570,846,'Percent of C5',{size:9,align:'center'});
genoScatter(519,867,104,107,1.2,1.3,mCC,mCT,mTT,mSpecial,mSpecialLabels,[[-3,-9,-1,-3,-6,-14]]);
rt(572,859,[['i','EMX1'],['k',' target 6']],{size:8.5,align:'center'});
legend([['C/C',DBLUE,'c'],['C/T',DORA,'c'],['T/T','#a8a8a8','c']],{x:604,y:873,dy:9,r:2.4,size:9,gap:4});
vt(487,920,'Percent of T6',9);rt(575,993,'Percent of C6',{size:9,align:'center'});
genoScatter(515,1013,107,111,1.4,1.25,oCC,oCT,oTT,oSpecial,oSpecialLabels,[[0,12,0,4,0,17]]);
rt(560,1006,[['i','HOXB13'],['k',' target 4']],{size:8.5,align:'center'});
legend([['C/C',DBLUE,'c'],['C/T',DORA,'c'],['T/T','#a8a8a8','c']],{x:599,y:1027,dy:10,r:2.4,size:9,gap:4});
vt(487,1068,'Percent of T8',9);rt(563,1146,'Percent of C8',{size:9,align:'center'});

// ================= RENDER =================
const chart=echarts.init(document.getElementById('c'),null,{renderer:'canvas',width:758,height:1150});
chart.setOption({animation:false,backgroundColor:'#fff',textStyle:{fontFamily:FF},grid:grids,xAxis:xA,yAxis:yA,series:S,graphic:{elements:G}});
</script></body></html>
